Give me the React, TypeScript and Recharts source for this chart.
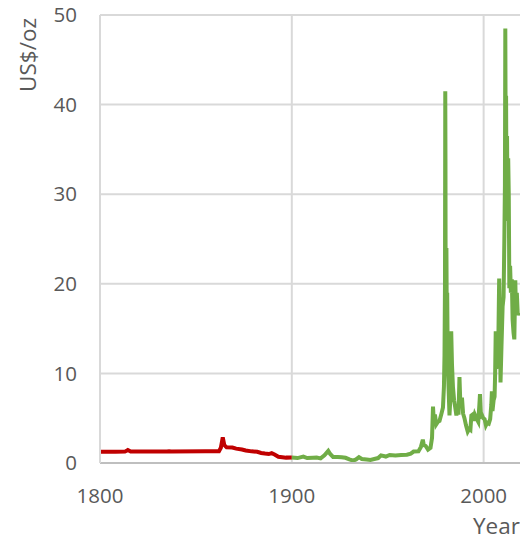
import { LineChart, Line, XAxis, YAxis, CartesianGrid, Label } from 'recharts'

// 19th century series (annual-ish readings)
const early = [
  { year: 1800, price: 1.25 }, { year: 1808, price: 1.25 }, { year: 1813, price: 1.27 },
  { year: 1814.5, price: 1.45 }, { year: 1816, price: 1.28 }, { year: 1825, price: 1.27 },
  { year: 1835, price: 1.28 }, { year: 1836, price: 1.32 }, { year: 1837, price: 1.28 },
  { year: 1855, price: 1.3 }, { year: 1862, price: 1.3 }, { year: 1863, price: 1.7 },
  { year: 1864, price: 2.85 }, { year: 1864.8, price: 2.0 }, { year: 1866, price: 1.75 },
  { year: 1869, price: 1.72 }, { year: 1871, price: 1.6 }, { year: 1874, price: 1.5 },
  { year: 1876, price: 1.4 }, { year: 1879, price: 1.3 }, { year: 1882, price: 1.25 },
  { year: 1884, price: 1.12 }, { year: 1886, price: 1.05 }, { year: 1888, price: 1.0 },
  { year: 1889.5, price: 1.1 }, { year: 1891, price: 0.95 }, { year: 1893, price: 0.7 },
  { year: 1895, price: 0.65 }, { year: 1897, price: 0.6 }, { year: 1900, price: 0.62 },
]

// 20th/21st century series
const modern = [
  { year: 1900, price: 0.62 }, { year: 1903, price: 0.55 }, { year: 1906, price: 0.72 },
  { year: 1908, price: 0.55 }, { year: 1911, price: 0.58 }, { year: 1913, price: 0.6 },
  { year: 1915, price: 0.52 }, { year: 1917, price: 0.85 }, { year: 1919, price: 1.35 },
  { year: 1920, price: 1.0 }, { year: 1921.5, price: 0.68 }, { year: 1924, price: 0.68 },
  { year: 1926, price: 0.65 }, { year: 1928, price: 0.58 }, { year: 1930, price: 0.4 },
  { year: 1932, price: 0.27 }, { year: 1933.5, price: 0.4 }, { year: 1935, price: 0.65 },
  { year: 1936.5, price: 0.45 }, { year: 1939, price: 0.4 }, { year: 1941, price: 0.35 },
  { year: 1943, price: 0.45 }, { year: 1945, price: 0.55 }, { year: 1946.5, price: 0.85 },
  { year: 1949, price: 0.72 }, { year: 1951, price: 0.9 }, { year: 1954, price: 0.85 },
  { year: 1957, price: 0.9 }, { year: 1960, price: 0.92 }, { year: 1962, price: 1.05 },
  { year: 1963.5, price: 1.28 }, { year: 1966, price: 1.3 }, { year: 1967.3, price: 1.8 },
  { year: 1968.3, price: 2.6 }, { year: 1968.8, price: 2.0 }, { year: 1969.8, price: 1.9 },
  { year: 1971, price: 1.5 }, { year: 1972.3, price: 1.7 }, { year: 1973.1, price: 2.8 },
  { year: 1973.6, price: 6.3 }, { year: 1974.1, price: 4.4 }, { year: 1974.6, price: 5.4 },
  { year: 1975.3, price: 4.3 }, { year: 1976.2, price: 4.6 }, { year: 1977, price: 4.7 },
  { year: 1978, price: 5.5 }, { year: 1978.8, price: 6.2 }, { year: 1979.3, price: 8.5 },
  { year: 1979.6, price: 12 }, { year: 1979.85, price: 20 }, { year: 1980.0, price: 41.5 },
  { year: 1980.1, price: 34 }, { year: 1980.2, price: 16 }, { year: 1980.4, price: 13 },
  { year: 1980.6, price: 24 }, { year: 1980.8, price: 15 }, { year: 1981, price: 19 },
  { year: 1981.3, price: 11 }, { year: 1981.7, price: 8.5 }, { year: 1982.2, price: 5.3 },
  { year: 1982.6, price: 7 }, { year: 1982.9, price: 11 }, { year: 1983.1, price: 14.7 },
  { year: 1983.5, price: 11 }, { year: 1984, price: 8.5 }, { year: 1984.6, price: 7 },
  { year: 1985.2, price: 6.2 }, { year: 1985.8, price: 5.3 }, { year: 1986.4, price: 6.5 },
  { year: 1986.9, price: 5.4 }, { year: 1987.4, price: 9.6 }, { year: 1987.8, price: 7 },
  { year: 1988.3, price: 6.5 }, { year: 1988.7, price: 7.3 }, { year: 1989.3, price: 5.5 },
  { year: 1990, price: 5.0 }, { year: 1990.8, price: 4.2 }, { year: 1991.7, price: 3.5 },
  { year: 1992.5, price: 3.8 }, { year: 1993.1, price: 3.7 }, { year: 1993.6, price: 5.3 },
  { year: 1994.2, price: 5.4 }, { year: 1994.7, price: 4.7 }, { year: 1995.4, price: 5.4 },
  { year: 1996, price: 5.1 }, { year: 1996.7, price: 4.8 }, { year: 1997.2, price: 4.6 },
  { year: 1997.7, price: 6.2 }, { year: 1998.1, price: 7.7 }, { year: 1998.6, price: 5.2 },
  { year: 1999.2, price: 5.3 }, { year: 1999.8, price: 5.0 }, { year: 2000.5, price: 4.9 },
  { year: 2001.2, price: 4.2 }, { year: 2001.9, price: 4.5 }, { year: 2002.7, price: 4.4 },
  { year: 2003.4, price: 4.9 }, { year: 2004, price: 6.5 }, { year: 2004.3, price: 8.0 },
  { year: 2004.6, price: 5.8 }, { year: 2005.2, price: 7.0 }, { year: 2005.7, price: 7.4 },
  { year: 2006, price: 10 }, { year: 2006.3, price: 14.7 }, { year: 2006.6, price: 10.5 },
  { year: 2007, price: 13.2 }, { year: 2007.6, price: 12.5 }, { year: 2008.1, price: 20.6 },
  { year: 2008.4, price: 17 }, { year: 2008.8, price: 9 }, { year: 2009.3, price: 13 },
  { year: 2009.9, price: 17.5 }, { year: 2010.4, price: 18.5 }, { year: 2010.8, price: 25 },
  { year: 2011.1, price: 31 }, { year: 2011.3, price: 48.5 }, { year: 2011.5, price: 35 },
  { year: 2011.7, price: 41 }, { year: 2011.9, price: 30 }, { year: 2012.2, price: 36.5 },
  { year: 2012.5, price: 27 }, { year: 2012.8, price: 34 }, { year: 2013.1, price: 30 },
  { year: 2013.4, price: 19.5 }, { year: 2013.8, price: 22 }, { year: 2014.2, price: 19 },
  { year: 2014.7, price: 20.5 }, { year: 2015.1, price: 16 }, { year: 2015.6, price: 14.5 },
  { year: 2016, price: 13.8 }, { year: 2016.5, price: 20.4 }, { year: 2016.9, price: 16.5 },
  { year: 2017.3, price: 19 }, { year: 2017.8, price: 16.5 }, { year: 2018.3, price: 16.8 },
]

const xTicks = [1800, 1900, 2000]
const yTicks = [0, 10, 20, 30, 40, 50]

const font = '"Open Sans", sans-serif'
const textColor = '#595959'

export default function App() {
  return (
    <div style={{ position: 'absolute', left: 0, top: 0, width: 520, height: 540, overflow: 'hidden', background: '#fff' }}>
      <LineChart width={530} height={540} margin={{ top: 15, right: 8, bottom: 17, left: 0 }}>
        <CartesianGrid stroke="#d9d9d9" strokeWidth={2} />
        <XAxis
          type="number"
          dataKey="year"
          domain={[1800, 2020]}
          ticks={xTicks}
          allowDataOverflow
          height={60}
          tickLine={false}
          tickSize={0}
          tickMargin={25}
          axisLine={{ stroke: '#bfbfbf', strokeWidth: 2 }}
          tick={{ fill: textColor, fontSize: 20.5, fontFamily: font }}
        >
          <Label
            content={() => (
              <text x={473} y={534} fill={textColor} fontSize={22.5} fontFamily={font}>Year</text>
            )}
          />
        </XAxis>
        <YAxis
          type="number"
          domain={[0, 50]}
          ticks={yTicks}
          width={100}
          tickLine={false}
          tickSize={0}
          tickMargin={23}
          axisLine={{ stroke: '#d9d9d9', strokeWidth: 2 }}
          tick={{ fill: textColor, fontSize: 20.5, fontFamily: font }}
        >
          <Label
            content={() => (
              <text x={27} y={55} transform="rotate(-90 27 55)" textAnchor="middle" dominantBaseline="central" fill={textColor} fontSize={22.5} fontFamily={font}>US$/oz</text>
            )}
          />
        </YAxis>
        <Line data={early} dataKey="price" stroke="#c00000" strokeWidth={4} dot={false} isAnimationActive={false} />
        <Line data={modern} dataKey="price" stroke="#70ad47" strokeWidth={4} dot={false} isAnimationActive={false} />
      </LineChart>
    </div>
  )
}
